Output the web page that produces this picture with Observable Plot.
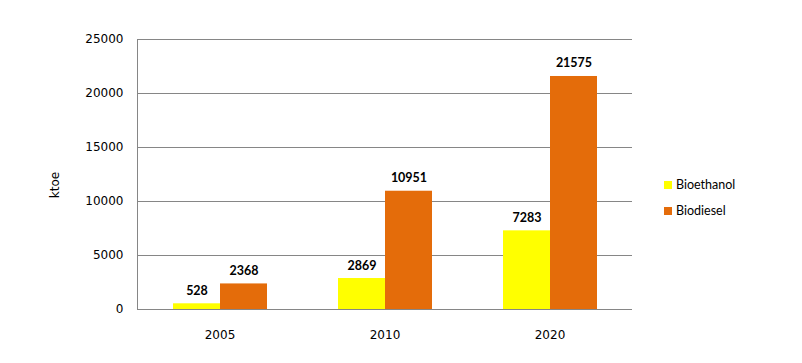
<!DOCTYPE html>
<html>
<head>
<meta charset="utf-8">
<script src="https://cdn.jsdelivr.net/npm/d3@7"></script>
<script src="https://cdn.jsdelivr.net/npm/@observablehq/plot@0.6"></script>
<style>
  html, body { margin: 0; padding: 0; background: #fff; }
  #wrap { position: relative; width: 802px; height: 363px; }
  .lg { position: absolute; left: 664px; font-family: Lato, sans-serif; font-size: 12.5px; color: #000; display: flex; align-items: center; white-space: nowrap; }
  .lg i { display: inline-block; width: 8px; height: 8px; margin-right: 4px; }
  #ylab { position: absolute; left: 55px; top: 185px; font-family: "DejaVu Sans", sans-serif; font-size: 12px; color: #000;
          transform: translate(-50%, -50%) rotate(-90deg); white-space: nowrap; line-height: 1; }
</style>
</head>
<body>
<div id="wrap"></div>
<script>
const years = ["2005", "2010", "2020"];
const series = ["Bioethanol", "Biodiesel"];
const bioethanol = [528, 2869, 7283];
const biodiesel = [2368, 10951, 21575];
const colors = ["#FFFF00", "#E46C0A"];
const yTicks = [0, 5000, 10000, 15000, 20000, 25000];
const yLabel = "ktoe";

const rows = [];
years.forEach((y, i) => {
  rows.push({year: y, series: series[0], value: bioethanol[i]});
  rows.push({year: y, series: series[1], value: biodiesel[i]});
});

const chart = Plot.plot({
  width: 802,
  height: 363,
  marginLeft: 137,
  marginRight: 170,
  marginTop: 39,
  marginBottom: 54,
  style: {fontFamily: "DejaVu Sans", fontSize: "12px", color: "#000", background: "white", overflow: "visible"},
  fx: {domain: years, padding: 0, axis: "bottom", tickSize: 0, tickPadding: 21, label: null},
  x: {domain: series, paddingInner: 0, paddingOuter: 0.755, axis: null},
  y: {domain: [0, 25000], ticks: yTicks, tickSize: 0, tickPadding: 14, tickFormat: d3.format("d"), label: null},
  color: {domain: series, range: colors},
  marks: [
    Plot.gridY(yTicks, {stroke: "#868686", strokeOpacity: 1}),
    Plot.frame({anchor: "left", facetAnchor: "left", stroke: "#868686"}),
    Plot.barY(rows, {fx: "year", x: "series", y: "value", fill: "series"}),
    Plot.text(rows, {fx: "year", x: "series", y: "value", text: d => String(d.value), dy: -13,
      fontFamily: "Lato", fontWeight: "bold", fontSize: 12.5, fill: "#000"})
  ]
});

const wrap = document.getElementById("wrap");
wrap.appendChild(chart);
const yl = document.createElement("div");
yl.id = "ylab";
yl.textContent = yLabel;
wrap.appendChild(yl);
const tops = [177, 203];
series.forEach((s, i) => {
  const d = document.createElement("div");
  d.className = "lg";
  d.style.top = tops[i] + "px";
  d.innerHTML = `<i style="background:${colors[i]}"></i><span>${s}</span>`;
  wrap.appendChild(d);
});
</script>
</body>
</html>
